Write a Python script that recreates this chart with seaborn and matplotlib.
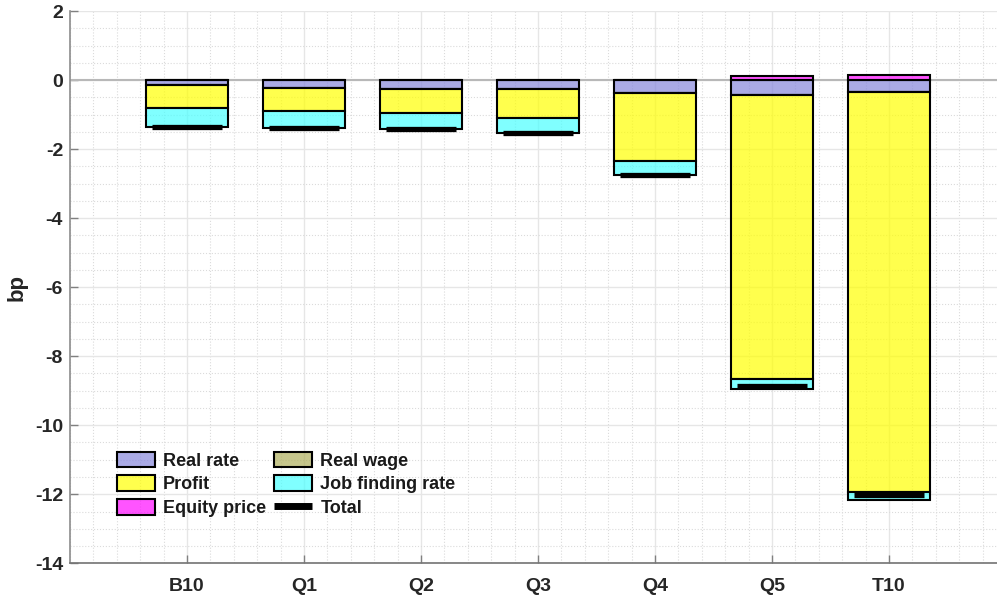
import numpy as np
import pandas as pd
import matplotlib
matplotlib.use("Agg")
import matplotlib.pyplot as plt
from matplotlib.patches import Patch
from matplotlib.lines import Line2D
from matplotlib.ticker import MultipleLocator
import seaborn as sns

# Decomposition of the response (bp) by group
groups = ["B10", "Q1", "Q2", "Q3", "Q4", "Q5", "T10"]
real_rate = [-0.14, -0.22, -0.25, -0.25, -0.39, -0.42, -0.35]
real_wage = [0.0, 0.0, 0.0, 0.0, 0.0, 0.0, 0.0]
profit = [-0.66, -0.68, -0.715, -0.86, -1.95, -8.25, -11.58]
job_finding = [-0.55, -0.50, -0.465, -0.43, -0.42, -0.29, -0.24]
equity_price = [0.0, 0.0, 0.0, 0.0, 0.01, 0.13, 0.16]
total = [-1.35, -1.40, -1.43, -1.54, -2.75, -8.86, -12.03]

y_ticks = [2, 0, -2, -4, -6, -8, -10, -12, -14]

sns.set_theme(style="white")
plt.rcParams["font.family"] = ["Liberation Sans", "DejaVu Sans"]
plt.rcParams["font.weight"] = "bold"

# (base colour, alpha) so the grid faintly shows through the bars
alpha = 0.7
def faded(rgb_target):
    return tuple((c / 255 - (1 - alpha)) / alpha for c in rgb_target)

c_rate = faded((170, 170, 230))
c_wage = faded((198, 198, 140))
c_profit = faded((255, 255, 77))
c_job = faded((128, 255, 255))
c_equity = faded((255, 85, 255))

fig = plt.figure(figsize=(9.97, 5.97), dpi=100)
ax = fig.add_axes([70 / 997, 33.7 / 597, 936 / 997, 552.3 / 597])

neg_series = [
    ("Real rate", real_rate, c_rate),
    ("Real wage", real_wage, c_wage),
    ("Profit", profit, c_profit),
    ("Job finding rate", job_finding, c_job),
]

df = pd.DataFrame({"group": groups})
bottom = np.zeros(len(groups))
for name, vals, col in neg_series:
    df["v"] = vals
    sns.barplot(data=df, x="group", y="v", order=groups, bottom=bottom,
                color=col, width=0.7, edgecolor="black", linewidth=1.5,
                errorbar=None, ax=ax, zorder=3)
    for p in ax.containers[-1]:
        p.set_facecolor((*col, alpha))
    bottom = bottom + np.asarray(vals)

df["v"] = equity_price
sns.barplot(data=df, x="group", y="v", order=groups, bottom=np.zeros(len(groups)),
            color=c_equity, width=0.7, edgecolor="black", linewidth=1.5,
            errorbar=None, ax=ax, zorder=3)
for p in ax.containers[-1]:
    p.set_facecolor((*c_equity, alpha))

# Total as a thick horizontal stroke over each bar
pos = np.arange(len(groups))
ax.hlines(total, pos - 0.3, pos + 0.3, colors="black", linewidth=3.8, zorder=5,
          capstyle="butt")

# zero reference line
ax.axhline(0, color=(0.72, 0.72, 0.72), linewidth=1.5, zorder=2)

ax.set_xlim(-1, 7)
ax.set_ylim(-14, 2)
ax.set_yticks(y_ticks)
ax.set_yticklabels([str(t) for t in y_ticks])
ax.set_xticks(pos)
ax.set_xticklabels(groups)
ax.xaxis.set_minor_locator(MultipleLocator(0.2))
ax.yaxis.set_minor_locator(MultipleLocator(0.5))

ax.grid(True, which="major", color=(0.9, 0.9, 0.9), linewidth=1.0, linestyle="-", zorder=0)
ax.grid(True, which="minor", color=(0.86, 0.86, 0.86), linewidth=0.8, linestyle=":", zorder=0)
ax.set_axisbelow(True)

for s in ["top", "right"]:
    ax.spines[s].set_visible(False)
ax.spines["left"].set_color((0.55, 0.55, 0.55))
ax.spines["bottom"].set_color((0.45, 0.45, 0.45))
ax.spines["left"].set_linewidth(1.2)
ax.spines["bottom"].set_linewidth(1.2)

ax.tick_params(axis="both", which="major", direction="in", length=6, width=1,
               color=(0.5, 0.5, 0.5), labelsize=14, labelcolor=(0.15, 0.15, 0.15))
ax.tick_params(axis="x", which="major", pad=10.5)
ax.tick_params(axis="y", which="major", pad=5)
ax.tick_params(which="minor", length=0)
ax.tick_params(axis="x", which="major", bottom=True)
ax.tick_params(axis="y", which="major", left=True)
for lbl in ax.get_xticklabels() + ax.get_yticklabels():
    lbl.set_fontweight("bold")

ax.set_xlabel("")
ax.set_ylabel("bp", fontsize=16, fontweight="bold", color=(0.15, 0.15, 0.15), labelpad=5)

h_rate = Patch(facecolor=(*c_rate, alpha), edgecolor="black", linewidth=1.5, label="Real rate")
h_wage = Patch(facecolor=(*c_wage, alpha), edgecolor="black", linewidth=1.5, label="Real wage")
h_profit = Patch(facecolor=(*c_profit, alpha), edgecolor="black", linewidth=1.5, label="Profit")
h_job = Patch(facecolor=(*c_job, alpha), edgecolor="black", linewidth=1.5, label="Job finding rate")
h_equity = Patch(facecolor=(*c_equity, alpha), edgecolor="black", linewidth=1.5, label="Equity price")
h_total = Line2D([], [], color="black", linewidth=5, solid_capstyle="butt", label="Total")

# legend fills column by column: first column then second
handles = [h_rate, h_profit, h_equity, h_wage, h_job, h_total]
leg = ax.legend(handles=handles, ncol=2, loc="upper left",
                bbox_to_anchor=(0.0502, 0.202), frameon=False,
                borderpad=0, borderaxespad=0, handlelength=2.1, handleheight=0.94,
                handletextpad=0.45, labelspacing=0.32, columnspacing=0.45,
                prop={"size": 13, "weight": "bold"})
for t in leg.get_texts():
    t.set_color((0.1, 0.1, 0.1))

fig.savefig("out.png", dpi=100)
